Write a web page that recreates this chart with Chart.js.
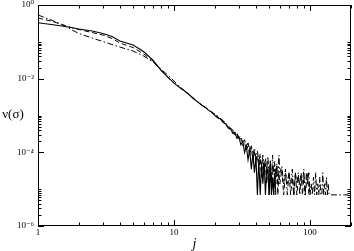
<!DOCTYPE html>
<html>
<head>
<meta charset="utf-8">
<script src="https://cdn.jsdelivr.net/npm/chart.js@4.4.1/dist/chart.umd.min.js"></script>
<style>
  html, body { margin: 0; padding: 0; background: #fff; }
  #wrap { width: 354px; height: 251px; }
</style>
</head>
<body>
<div id="wrap"><canvas id="chart"></canvas></div>
<script>
// j values shared by the three curves
const jValues = [
  1, 1.25, 1.5, 1.75, 2, 2.5, 3, 3.5, 4, 5, 6, 7, 8, 9, 10, 11, 12, 13, 14, 15, 16, 17, 18, 19,
  20, 21, 22, 23, 24, 25, 26, 27, 28, 29, 30, 31, 32, 33, 34, 35, 36, 37, 38, 39, 40,
  41, 42, 43, 44, 45, 46, 47, 48, 49, 50, 51, 52, 53, 54, 55, 56, 57, 58, 59, 60,
  62, 64, 66, 68, 70, 72, 74, 76, 78, 80, 82, 84, 86, 88, 90, 92, 94, 96, 98, 100,
  102, 104, 106, 108, 110, 112, 114, 116, 118, 120, 122, 124, 126, 128, 130, 132, 134, 136, 138, 140,
  150, 160, 170, 180, 190
];

// solid curve
const solidVals = [
  0.330, 0.295, 0.269, 0.245, 0.223, 0.197, 0.168, 0.139, 0.105, 0.0819, 0.0538, 0.0320, 0.0171, 0.0110, 0.00759,
  5.7e-3, 4.6e-3, 3.6e-3, 2.8e-3, 2.3e-3, 1.9e-3, 1.65e-3, 1.38e-3, 1.22e-3,
  1.0e-3, 8.6e-4, 8.0e-4, 6.4e-4, 5.9e-4, 4.6e-4, 4.4e-4, 3.3e-4, 3.5e-4, 2.4e-4, 2.6e-4,
  1.6e-4, 2.0e-4, 9.8e-5, 1.5e-4, 6.3e-5, 1.2e-4, 3.5e-5, 9.1e-5, 2.8e-5, 7.7e-5,
  7.0e-6, 6.3e-5, 7.0e-6, 4.9e-5, 1.4e-5, 5.6e-5, 7.0e-6, 3.5e-5, 2.8e-5, 7.0e-6,
  4.2e-5, 7.0e-6, 2.1e-5, 7.0e-6, 2.8e-5, 7.0e-6
];

// dashed curve
const dashedVals = [
  0.443, 0.367, 0.295, 0.245, 0.216, 0.179, 0.153, 0.123, 0.0928, 0.0700, 0.0466, 0.0301, 0.0171, 0.0110, 0.00759,
  5.8e-3, 4.5e-3, 3.7e-3, 2.75e-3, 2.35e-3, 1.85e-3, 1.7e-3, 1.35e-3, 1.25e-3,
  1.05e-3, 9.2e-4, 7.4e-4, 7.0e-4, 5.5e-4, 5.1e-4, 3.9e-4, 3.9e-4, 2.8e-4, 3.1e-4, 2.1e-4,
  2.4e-4, 1.5e-4, 1.9e-4, 1.1e-4, 1.5e-4, 8.4e-5, 1.3e-4, 6.3e-5, 1.05e-4, 4.9e-5,
  8.4e-5, 3.5e-5, 7.0e-5, 2.1e-5, 6.3e-5, 2.8e-5, 4.9e-5, 1.4e-5, 4.2e-5, 7.0e-6,
  4.9e-5, 2.1e-5, 4.2e-5, 7.0e-6, 3.5e-5, 1.4e-5, 4.2e-5, 7.0e-6, 2.8e-5, 1.4e-5,
  3.5e-5, 7.0e-6, 2.8e-5, 1.4e-5, 2.8e-5, 7.0e-6, 2.1e-5, 7.0e-6, 2.8e-5, 7.0e-6,
  2.1e-5, 1.4e-5, 2.8e-5, 7.0e-6, 2.1e-5, 7.0e-6, 1.4e-5, 2.8e-5, 7.0e-6, 1.4e-5
];

// dash-dot curve
const dashDotVals = [
  0.535, 0.391, 0.295, 0.216, 0.168, 0.127, 0.102, 0.0845, 0.0722, 0.0562, 0.0411, 0.0283, 0.0182, 0.0125, 0.00861,
  6.0e-3, 4.7e-3, 3.6e-3, 2.9e-3, 2.3e-3, 1.95e-3, 1.6e-3, 1.42e-3, 1.18e-3,
  1.1e-3, 9.6e-4, 8.2e-4, 7.3e-4, 6.0e-4, 5.4e-4, 4.5e-4, 4.1e-4, 3.2e-4, 3.4e-4, 2.5e-4,
  2.7e-4, 1.9e-4, 2.2e-4, 1.4e-4, 1.8e-4, 1.1e-4, 1.5e-4, 8.4e-5, 1.3e-4, 7.0e-5,
  1.1e-4, 5.6e-5, 9.1e-5, 4.2e-5, 8.4e-5, 2.8e-5, 7.0e-5, 3.5e-5, 7.7e-5, 2.1e-5,
  6.3e-5, 1.4e-5, 8.4e-5, 2.8e-5, 5.6e-5, 2.1e-5, 4.9e-5, 1.4e-5, 8.4e-5, 2.8e-5,
  4.2e-5, 1.4e-5, 3.5e-5, 7.0e-6, 2.8e-5, 1.4e-5, 3.5e-5, 7.0e-6, 2.8e-5, 1.4e-5,
  2.8e-5, 7.0e-6, 2.1e-5, 1.4e-5, 3.5e-5, 7.0e-6, 2.8e-5, 1.4e-5, 2.8e-5, 7.0e-6,
  1.4e-5, 7.0e-6, 2.1e-5, 7.0e-6, 2.8e-5, 7.0e-6, 1.4e-5, 7.0e-6, 2.1e-5, 7.0e-6,
  7.0e-6, 2.8e-5, 7.0e-6, 1.4e-5, 7.0e-6, 2.1e-5, 7.0e-6, 1.4e-5, 7.0e-6, 7.0e-6,
  7.0e-6, 7.0e-6, 7.0e-6, 7.0e-6, 7.0e-6
];

const xTickVals = [1, 10, 100];
const xTickLabels = ['1', '10', '100'];
const yTickVals = [1e-6, 1e-4, 1e-2, 1];
const yTickLabels = ['10\u207B\u2076', '10\u207B\u2074', '10\u207B\u00B2', '10\u2070'];

const SERIF = "'Liberation Serif', 'DejaVu Serif', serif";

function toPoints(vals) {
  return vals.map((v, i) => ({ x: jValues[i], y: v }));
}

// minor tick positions
const xMinor = [];
for (let d = 1; d <= 100; d *= 10) {
  for (let k = 2; k <= 9; k++) if (k * d <= 200) xMinor.push(k * d);
}
const yMinor = [];
[-6, -4, -2].forEach(e => {
  for (let k = 2; k <= 10; k++) yMinor.push(k * Math.pow(10, e));
});

// frame with inward ticks on all four sides, plus the horizontal y title
const frameTicks = {
  id: 'frameTicks',
  afterDatasetsDraw(chart) {
    const { ctx, chartArea: a, scales: { x, y } } = chart;
    ctx.save();
    ctx.strokeStyle = '#000';
    ctx.lineWidth = 1;
    ctx.strokeRect(a.left + 0.5, a.top + 0.5, a.right - a.left - 1, a.bottom - a.top - 1);
    ctx.beginPath();
    const tickX = (v, len) => {
      const px = Math.round(x.getPixelForValue(v)) + 0.5;
      ctx.moveTo(px, a.bottom); ctx.lineTo(px, a.bottom - len);
      ctx.moveTo(px, a.top); ctx.lineTo(px, a.top + len);
    };
    const tickY = (v, len) => {
      const py = Math.round(y.getPixelForValue(v)) + 0.5;
      ctx.moveTo(a.left, py); ctx.lineTo(a.left + len, py);
      ctx.moveTo(a.right, py); ctx.lineTo(a.right - len, py);
    };
    xTickVals.forEach(v => tickX(v, 6));
    xMinor.forEach(v => tickX(v, 3.5));
    yTickVals.forEach(v => tickY(v, 6));
    yMinor.forEach(v => tickY(v, 3.5));
    ctx.stroke();

    ctx.fillStyle = '#000';
    ctx.font = '13px ' + SERIF;
    ctx.textAlign = 'center';
    ctx.textBaseline = 'middle';
    ctx.fillText('\u03BD(\u03C3)', 13, 115);
    ctx.restore();
  }
};

function noPad(s) {
  s.paddingTop = 0; s.paddingBottom = 0; s.paddingLeft = 0; s.paddingRight = 0;
}

new Chart(document.getElementById('chart'), {
  type: 'line',
  data: {
    datasets: [
      { data: toPoints(solidVals), borderColor: '#000', borderWidth: 1.1 },
      { data: toPoints(dashedVals), borderColor: '#000', borderWidth: 1, borderDash: [5, 3] },
      { data: toPoints(dashDotVals), borderColor: '#000', borderWidth: 1, borderDash: [6, 2.5, 1.5, 2.5] }
    ]
  },
  options: {
    responsive: true,
    maintainAspectRatio: false,
    animation: false,
    events: [],
    layout: { padding: { top: 5, right: 3, left: 0, bottom: 0 } },
    elements: { point: { radius: 0 }, line: { tension: 0 } },
    plugins: { legend: { display: false }, tooltip: { enabled: false } },
    scales: {
      x: {
        type: 'logarithmic',
        min: 1,
        max: 200,
        grid: { display: false, drawTicks: false },
        border: { display: false },
        afterBuildTicks: s => { s.ticks = xTickVals.map(v => ({ value: v })); },
        afterFit: s => { s.height = 25; noPad(s); },
        ticks: {
          color: '#000',
          padding: 1,
          maxRotation: 0,
          autoSkip: false,
          font: { family: SERIF, size: 9 },
          callback: v => xTickLabels[xTickVals.indexOf(v)]
        },
        title: {
          display: true,
          text: 'j',
          color: '#000',
          padding: { top: 0, bottom: 0 },
          font: { family: SERIF, size: 14, style: 'italic', lineHeight: 1 }
        }
      },
      y: {
        type: 'logarithmic',
        min: 1e-6,
        max: 1,
        grid: { display: false, drawTicks: false },
        border: { display: false },
        afterBuildTicks: s => { s.ticks = yTickVals.map(v => ({ value: v })); },
        afterFit: s => { s.width = 38; noPad(s); },
        ticks: {
          color: '#000',
          padding: 4,
          autoSkip: false,
          font: { family: SERIF, size: 9 },
          callback: v => yTickLabels[yTickVals.indexOf(v)]
        }
      }
    }
  },
  plugins: [frameTicks]
});
</script>
</body>
</html>
